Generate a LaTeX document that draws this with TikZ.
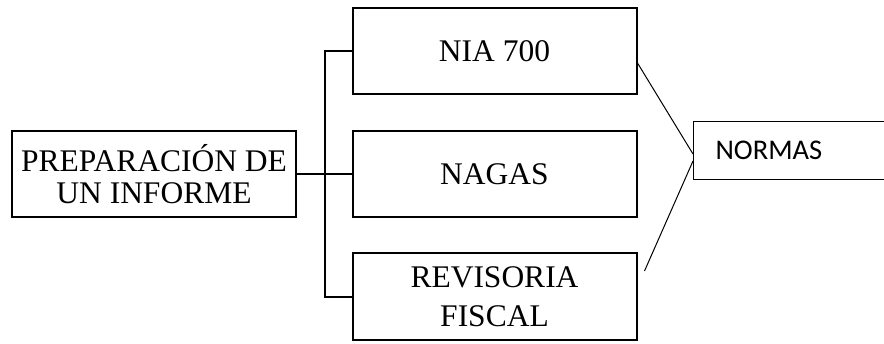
\documentclass[tikz,border=0pt]{standalone}
\usepackage{fontspec}
\setmainfont{Liberation Serif}
\newfontfamily\calib{Carlito}
\begin{document}
\begin{tikzpicture}[x=1pt,y=-1pt,
  sbox/.style={draw=black, line width=2pt, minimum width=284pt, minimum height=86pt, inner sep=0pt, align=center, font=\fontsize{31.5}{32}\selectfont, text=black},
  link/.style={draw=black, line width=2pt},
  thin/.style={draw=black, line width=1pt}]
\useasboundingbox (0,0) rectangle (884,343);
\node[sbox] (prep) at (154,174) {PREPARACIÓN DE\\UN INFORME};
\node[sbox] (nia) at (494.5,51) {NIA 700};
\node[sbox] (nagas) at (494.5,174) {NAGAS};
\node[sbox, minimum height=87pt, font=\fontsize{31.5}{39}\selectfont] (rev) at (494.5,296.5) {REVISORIA\\FISCAL};
\node[draw=black, line width=1pt, anchor=west, minimum height=58pt, inner xsep=22pt, inner ysep=0pt, text width=163pt, align=left, font=\calib\fontsize{28.5}{30}\selectfont] (normas) at (693,150) {NORMAS};
\coordinate (bx) at (325,0);
\draw[link] (nia.west) -- (nia.west -| bx) -- (rev.west -| bx) -- (rev.west);
\draw[link] (prep.east) -- (nagas.west);
\draw[thin] ([yshift=-12pt]nia.east) -- ([yshift=-4pt]normas.west);
\draw[thin] ([yshift=-11pt]normas.west) -- ([xshift=7pt,yshift=-19pt]rev.north east);
\end{tikzpicture}
\end{document}
